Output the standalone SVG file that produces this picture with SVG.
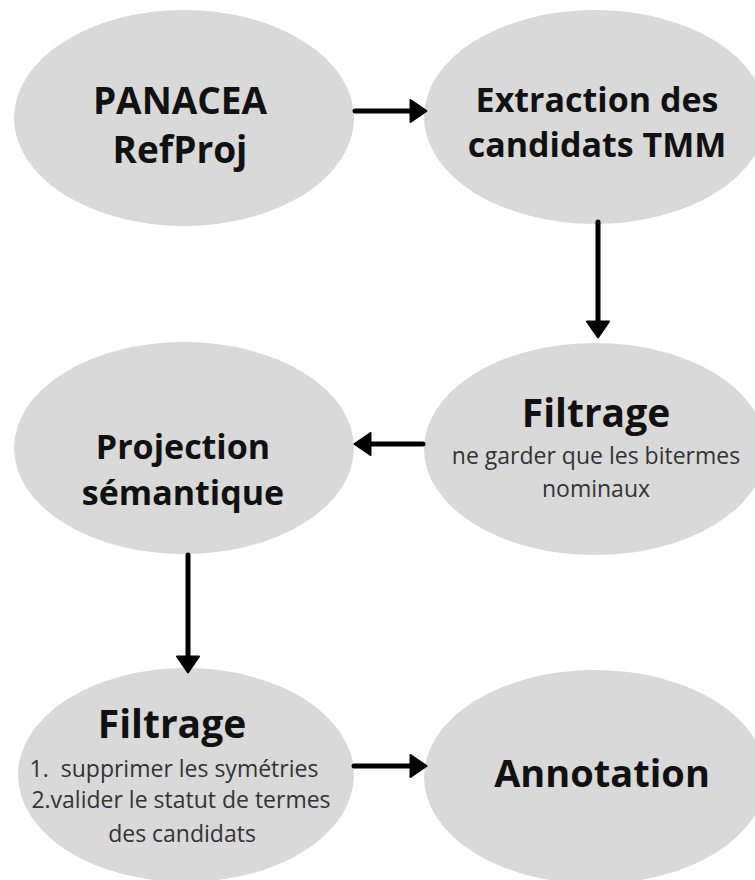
<svg xmlns="http://www.w3.org/2000/svg" width="755" height="880" viewBox="0 0 755 880">
  <defs>
    <style>
      .node { fill: #d9d9d9; }
      .t { font-family: "Open Sans", "Liberation Sans", sans-serif; fill: #111; text-anchor: middle; }
      .b { font-weight: bold; }
      .s { font-size: 23px; fill: #333; }
      .conn { stroke: #000; stroke-width: 5; stroke-linecap: round; fill: none; marker-end: url(#ah); }
    </style>
    <marker id="ah" viewBox="0 0 19 25" markerWidth="19" markerHeight="25" refX="8" refY="12.5" orient="auto" markerUnits="userSpaceOnUse">
      <path d="M1.5,1.5 L17.5,12.5 L1.5,23.5 Z" fill="#000" stroke="#000" stroke-width="2" stroke-linejoin="round"/>
    </marker>
  </defs>
  <rect width="755" height="880" fill="#fff"/>

  <g id="panacea">
    <ellipse class="node" cx="184" cy="118" rx="170" ry="108"/>
    <text class="t b" x="180" y="114" font-size="37">PANACEA</text>
    <text class="t b" x="180" y="163" font-size="37">RefProj</text>
  </g>

  <g id="extraction">
    <ellipse class="node" cx="595" cy="117" rx="171" ry="107"/>
    <text class="t b" x="597" y="112" font-size="34">Extraction des</text>
    <text class="t b" x="597" y="157" font-size="34">candidats TMM</text>
  </g>

  <g id="filtrage1">
    <ellipse class="node" cx="595" cy="449" rx="171" ry="106"/>
    <text class="t b" x="596" y="427" font-size="39">Filtrage</text>
    <text class="t s" x="596" y="464">ne garder que les bitermes</text>
    <text class="t s" x="596" y="497">nominaux</text>
  </g>

  <g id="projection">
    <ellipse class="node" cx="184" cy="448" rx="170" ry="106"/>
    <text class="t b" x="183" y="459" font-size="34">Projection</text>
    <text class="t b" x="183" y="505" font-size="34">sémantique</text>
  </g>

  <g id="filtrage2">
    <ellipse class="node" cx="186" cy="775" rx="168" ry="107"/>
    <text class="t b" x="172" y="738" font-size="39">Filtrage</text>
    <text class="t s" x="174" y="777">1.&#160; supprimer les symétries</text>
    <text class="t s" x="181" y="808">2.valider le statut de termes</text>
    <text class="t s" x="182" y="842">des candidats</text>
  </g>

  <g id="annotation">
    <ellipse class="node" cx="595" cy="777" rx="171" ry="107"/>
    <text class="t b" x="602" y="787" font-size="38">Annotation</text>
  </g>

  <g id="connectors">
    <line class="conn" x1="355" y1="111" x2="417" y2="111"/>
    <line class="conn" x1="598" y1="222" x2="598" y2="328"/>
    <line class="conn" x1="423" y1="444" x2="364" y2="444"/>
    <line class="conn" x1="188" y1="555" x2="188" y2="663"/>
    <line class="conn" x1="354" y1="766" x2="417" y2="766"/>
  </g>
</svg>
